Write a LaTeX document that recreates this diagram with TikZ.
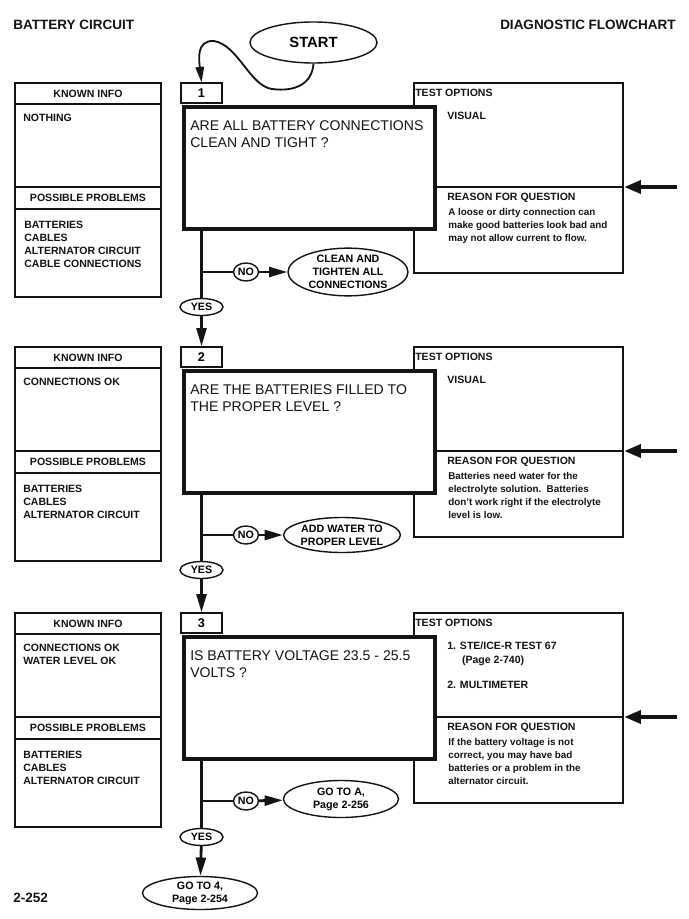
\documentclass[tikz,border=0pt]{standalone}
\usepackage{fontspec}
\setmainfont{Liberation Sans}
\usetikzlibrary{shapes.geometric,arrows.meta}
\definecolor{flowInk}{RGB}{20,20,20}
\definecolor{flowPaper}{RGB}{255,255,255}

\begin{document}
\begin{tikzpicture}[x=.025cm,y=-.025cm,
      pagehead/.style={font=\fontsize{9.6}{11}\selectfont\bfseries,
        text=flowInk, inner sep=0pt},
      boxhead/.style={font=\fontsize{7.5}{9}\selectfont\bfseries,
        text=flowInk},
      boxtext/.style={font=\fontsize{7.5}{9.3}\selectfont\bfseries,
        text=flowInk, align=left, anchor=north west, inner sep=0pt},
      asktext/.style={font=\fontsize{10}{12.6}\selectfont,
        text=flowInk, align=left, anchor=north west, inner sep=0pt},
      panel/.style={draw=flowInk, line width=.9pt},
      askbox/.style={draw=flowInk, fill=flowPaper, line width=3.3pt,
        minimum width=6.275cm, minimum height=3.05cm, inner sep=0pt},
      tabbox/.style={draw=flowInk, fill=flowPaper, line width=.9pt,
        minimum width=1.025cm, minimum height=.5cm, inner sep=0pt,
        font=\fontsize{9}{10}\selectfont\bfseries},
      oval/.style={ellipse, draw=flowInk, fill=flowPaper, line width=1pt,
        inner sep=0pt, align=center,
        font=\fontsize{7.6}{9.3}\selectfont\bfseries},
      trunk/.style={draw=flowInk, line width=2pt},
      arr/.style={trunk, -{Triangle[length=13pt,width=7pt]}},
      feed/.style={draw=flowInk, line width=3pt,
        -{Triangle[length=12pt,width=9pt]}}]
      \useasboundingbox (0,0) rectangle (689,919);
      \fill[flowPaper] (0,0) rectangle (689,919);

      \node[pagehead, anchor=west] (title) at (13,25) {BATTERY CIRCUIT};
      \node[pagehead, anchor=east] (chart) at (676,25) {DIAGNOSTIC FLOWCHART};
      \node[pagehead, anchor=west] (pageno) at (13,898) {2-252};

      \node[oval, minimum width=3.175cm, minimum height=1.025cm,
        font=\fontsize{10.5}{12}\selectfont\bfseries] (start) at (313.5,42.5) {START};

      \path[panel] (15,83) rectangle (161,297);
      \draw[panel] (15,104) -- (161,104);
      \draw[panel] (15,187) -- (161,187);
      \draw[panel] (15,209) -- (161,209);
      \node[boxhead] (known1) at (88,94) {KNOWN INFO};
      \node[boxhead] (probs1) at (88,198) {POSSIBLE PROBLEMS};
      \node[boxtext] (knowntext1) at (23,114) {NOTHING};
      \node[boxtext] (probtext1) at (24,221)
        {BATTERIES\\CABLES\\ALTERNATOR CIRCUIT\\CABLE CONNECTIONS};

      \path[panel] (414,83) rectangle (623,273);
      \draw[draw=flowInk, line width=1.6pt] (414,187) -- (623,187) -- (623,83);
      \node[boxhead, anchor=west, inner sep=0pt] (tests1) at (415,93) {TEST OPTIONS};
      \node[boxtext] (testtext1) at (447,112) {VISUAL};
      \node[boxhead, anchor=west, inner sep=0pt] (reason1) at (447,198) {REASON FOR QUESTION};
      \node[boxtext, font=\fontsize{7}{9.3}\selectfont\bfseries] (reasontext1) at (448,208)
        {A loose or dirty connection can\\make good batteries look bad and\\may not allow current to flow.};
      \coordinate (feed1) at (677,187);
      \coordinate (tip1) at (624,187);
      \draw[feed] (feed1) -- (tip1);

      \node[tabbox] (tab1) at (201.5,93) {1};
      \node[askbox] (ask1) at (309.5,168) {};
      \node[asktext] (asktext1) at (190,120)
        {ARE ALL BATTERY CONNECTIONS\\CLEAN AND TIGHT ?};

      \coordinate (loopLow) at (272,89);
      \coordinate (loopHigh) at (214,41);
      \draw[trunk, line width=1.3pt, -{Triangle[length=11pt,width=6pt]}]
        (start.south) .. controls (312,84) and (295,92) .. (loopLow)
        .. controls (250,86) and (238,45) .. (loopHigh)
        .. controls (196,40) and (199,60) .. (tab1.north);

      \node[oval, minimum width=.625cm, minimum height=.45cm] (no1) at (246,272) {NO};
      \node[oval, minimum width=3cm, minimum height=1.1cm] (fix1) at (348,272)
        {CLEAN AND\\TIGHTEN ALL\\CONNECTIONS};
      \node[oval, minimum width=1.075cm, minimum height=.425cm] (yes1) at (201.5,307) {YES};
      \draw[trunk] (ask1.south -| tab1.center) -- (yes1.north);
      \draw[trunk] (no1.west -| tab1.center) -- (no1.west);
      \draw[arr] (no1) -- (fix1);

      \path[panel] (15,347) rectangle (161,561);
      \draw[panel] (15,368) -- (161,368);
      \draw[panel] (15,451) -- (161,451);
      \draw[panel] (15,473) -- (161,473);
      \node[boxhead] (known2) at (88,358) {KNOWN INFO};
      \node[boxhead] (probs2) at (88,462) {POSSIBLE PROBLEMS};
      \node[boxtext] (knowntext2) at (23,378) {CONNECTIONS OK};
      \node[boxtext] (probtext2) at (23,485)
        {BATTERIES\\CABLES\\ALTERNATOR CIRCUIT};

      \path[panel] (414,347) rectangle (623,537);
      \draw[draw=flowInk, line width=1.6pt] (414,451) -- (623,451) -- (623,347);
      \node[boxhead, anchor=west, inner sep=0pt] (tests2) at (415,357) {TEST OPTIONS};
      \node[boxtext] (testtext2) at (447,376) {VISUAL};
      \node[boxhead, anchor=west, inner sep=0pt] (reason2) at (447,462) {REASON FOR QUESTION};
      \node[boxtext, font=\fontsize{7}{9.3}\selectfont\bfseries] (reasontext2) at (448,472)
        {Batteries need water for the\\electrolyte solution.\ \ Batteries\\don't work right if the electrolyte\\level is low.};
      \coordinate (feed2) at (677,451);
      \coordinate (tip2) at (624,451);
      \draw[feed] (feed2) -- (tip2);

      \node[tabbox] (tab2) at (201.5,357) {2};
      \node[askbox] (ask2) at (309.5,432) {};
      \node[asktext] (asktext2) at (190,384)
        {ARE THE BATTERIES FILLED TO\\THE PROPER LEVEL ?};
      \draw[arr] (yes1) -- (tab2);

      \node[oval, minimum width=.625cm, minimum height=.45cm] (no2) at (246,535) {NO};
      \node[oval, minimum width=2.875cm, minimum height=.875cm] (fix2) at (342,535)
        {ADD WATER TO\\PROPER LEVEL};
      \node[oval, minimum width=1.075cm, minimum height=.425cm] (yes2) at (201.5,570) {YES};
      \draw[trunk] (ask2.south -| tab2.center) -- (yes2.north);
      \draw[trunk] (no2.west -| tab2.center) -- (no2.west);
      \draw[arr] (no2) -- (fix2);

      \path[panel] (15,613) rectangle (161,827);
      \draw[panel] (15,634) -- (161,634);
      \draw[panel] (15,717) -- (161,717);
      \draw[panel] (15,739) -- (161,739);
      \node[boxhead] (known3) at (88,624) {KNOWN INFO};
      \node[boxhead] (probs3) at (88,728) {POSSIBLE PROBLEMS};
      \node[boxtext] (knowntext3) at (23,644) {CONNECTIONS OK\\WATER LEVEL OK};
      \node[boxtext] (probtext3) at (23,751)
        {BATTERIES\\CABLES\\ALTERNATOR CIRCUIT};

      \path[panel] (414,613) rectangle (623,803);
      \draw[draw=flowInk, line width=1.6pt] (414,717) -- (623,717) -- (623,613);
      \node[boxhead, anchor=west, inner sep=0pt] (tests3) at (415,623) {TEST OPTIONS};
      \node[boxtext] (testtext3) at (447,642)
        {1. STE/ICE-R TEST 67\\\hspace*{10.5pt}(Page 2-740)\\[8.5pt]2. MULTIMETER};
      \node[boxhead, anchor=west, inner sep=0pt] (reason3) at (447,728) {REASON FOR QUESTION};
      \node[boxtext, font=\fontsize{7}{9.3}\selectfont\bfseries] (reasontext3) at (448,738)
        {If the battery voltage is not\\correct, you may have bad\\batteries or a problem in the\\alternator circuit.};
      \coordinate (feed3) at (677,717);
      \coordinate (tip3) at (624,717);
      \draw[feed] (feed3) -- (tip3);

      \node[tabbox] (tab3) at (201.5,623) {3};
      \node[askbox] (ask3) at (309.5,698) {};
      \node[asktext] (asktext3) at (190,650)
        {IS BATTERY VOLTAGE 23.5 - 25.5\\VOLTS ?};
      \draw[arr] (yes2) -- (tab3);

      \node[oval, minimum width=.625cm, minimum height=.45cm] (no3) at (246,801) {NO};
      \node[oval, minimum width=2.875cm, minimum height=.925cm] (fix3) at (341,799)
        {GO TO A,\\Page 2-256};
      \node[oval, minimum width=1.075cm, minimum height=.425cm] (yes3) at (201.5,837) {YES};
      \draw[trunk] (ask3.south -| tab3.center) -- (yes3.north);
      \draw[trunk] (no3.west -| tab3.center) -- (no3.west);
      \draw[arr] (no3) -- (fix3);

      \node[oval, minimum width=2.875cm, minimum height=.825cm] (next4) at (200,893)
        {GO TO 4,\\Page 2-254};
      \draw[arr] (yes3) -- (next4);
    \end{tikzpicture}
\end{document}
